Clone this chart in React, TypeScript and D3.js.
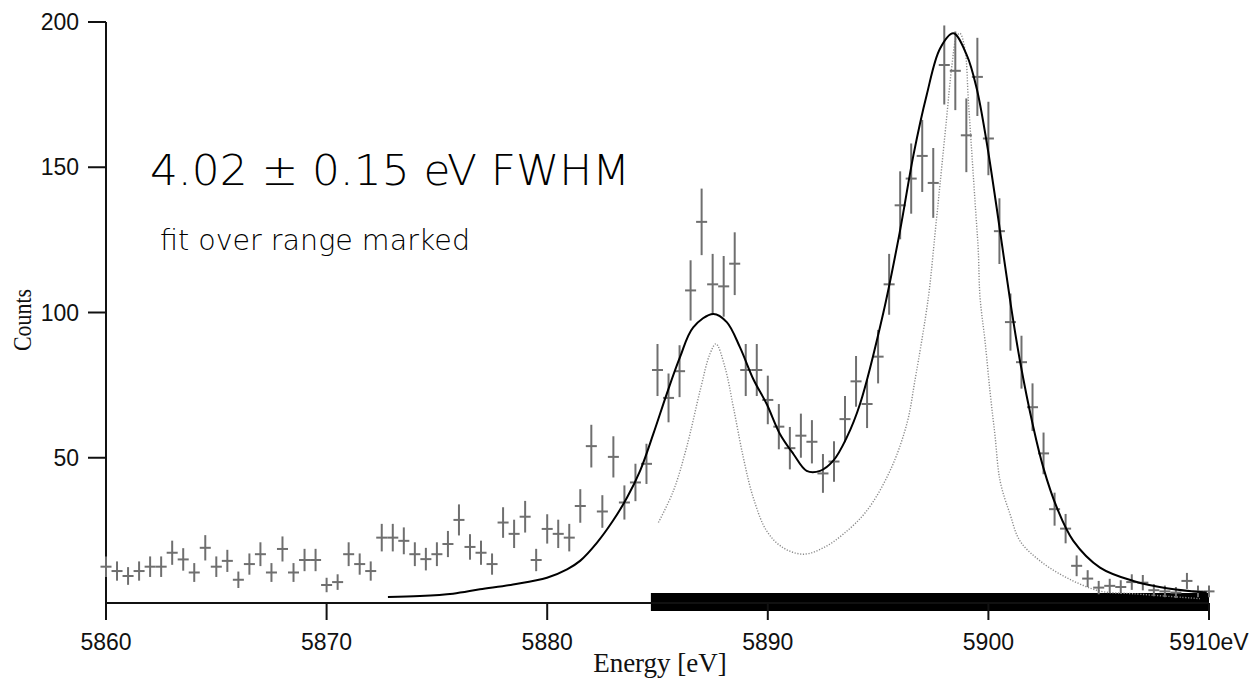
import { useEffect, useRef } from "react";
import * as d3 from "d3";

// measured spectrum, 0.5 eV bins
const binEnergy = [
  5860, 5860.5, 5861, 5861.5, 5862, 5862.5, 5863, 5863.5, 5864, 5864.5,
  5865, 5865.5, 5866, 5866.5, 5867, 5867.5, 5868, 5868.5, 5869, 5869.5,
  5870, 5870.5, 5871, 5871.5, 5872, 5872.5, 5873, 5873.5, 5874, 5874.5,
  5875, 5875.5, 5876, 5876.5, 5877, 5877.5, 5878, 5878.5, 5879, 5879.5,
  5880, 5880.5, 5881, 5881.5, 5882, 5882.5, 5883, 5883.5, 5884, 5884.5,
  5885, 5885.5, 5886, 5886.5, 5887, 5887.5, 5888, 5888.5, 5889, 5889.5,
  5890, 5890.5, 5891, 5891.5, 5892, 5892.5, 5893, 5893.5, 5894, 5894.5,
  5895, 5895.5, 5896, 5896.5, 5897, 5897.5, 5898, 5898.5, 5899, 5899.5,
  5900, 5900.5, 5901, 5901.5, 5902, 5902.5, 5903, 5903.5, 5904, 5904.5,
  5905, 5905.5, 5906, 5906.5, 5907, 5907.5, 5908, 5908.5, 5909, 5909.5,
  5910
];
const binCounts = [
  12.5, 11, 9.3, 11, 12.5, 12.5, 17.3, 15, 10.5, 19,
  12.5, 14.5, 8, 13.4, 16.8, 10.5, 18.6, 10.5, 14.8, 14.8,
  6.2, 7.2, 16.8, 13.4, 11, 22.5, 22.5, 21.4, 16.8, 15.1,
  16.8, 20.3, 28.6, 19.3, 17.3, 13.4, 27.7, 23.8, 29.7, 14.8,
  25.5, 23.8, 22.5, 33.4, 54, 31.5, 50.3, 34.6, 41.5, 47.9,
  80.2, 70.6, 79.8, 107.6, 131.2, 109.7, 109, 116.8, 80.2, 80.2,
  69.9, 60.7, 53.3, 57.6, 55.5, 44.6, 48.7, 63.3, 76.3, 68.5,
  84.8, 109.7, 136.9, 146.1, 153.9, 144.6, 185.2, 183.2, 161, 181.1,
  159.9, 128, 96.7, 82.9, 67.4, 51.5, 32.3, 25.6, 12.8, 8.4,
  5.3, 5.9, 5.5, 7.2, 7, 4.4, 4, 3.6, 7.6, 4,
  4
];

// fitted line shape (solid)
const fitEnergy = [
  5872.78, 5874.23, 5875.73, 5876.95, 5878.45, 5879.99, 5880.9, 5881.49, 5882.26, 5882.98,
  5883.62, 5884.21, 5884.81, 5885.42, 5886.02, 5886.62, 5887.53, 5888.14, 5888.74, 5889.34,
  5889.95, 5890.55, 5891.16, 5891.76, 5892.37, 5892.97, 5893.58, 5894.18, 5895.24, 5895.99,
  5896.6, 5897.2, 5897.81, 5898.41, 5899.02, 5899.47, 5899.92, 5900.38, 5900.98, 5901.43,
  5902.04, 5902.49, 5903.1, 5903.85, 5905.06, 5906.57, 5908.08, 5909.9
];
const fitCounts = [
  2.1, 2.4, 3.2, 4.7, 6.4, 8.7, 11.6, 14.5, 20.8, 28.3,
  36.3, 45.5, 58.2, 72, 84.6, 94.9, 99.5, 96.7, 88, 77.1,
  68.5, 58.2, 51.3, 45.5, 45.5, 49, 57, 68.5, 100, 128,
  154.1, 174.8, 190.9, 196.1, 188.6, 177.1, 158.7, 135.8, 104.4, 83.4,
  60.4, 46.6, 32.9, 21.4, 12.2, 7.6, 5.1, 3.6
];

// natural line shape (dotted)
const lineEnergy = [
  5885.04, 5885.72, 5886.32, 5886.93, 5887.38, 5887.65, 5888.06, 5888.44, 5888.89, 5889.34,
  5889.95, 5890.7, 5891.61, 5892.52, 5893.42, 5894.48, 5895.54, 5896.3, 5896.67, 5897.28,
  5897.58, 5897.81, 5898.11, 5898.34, 5898.56, 5898.71, 5898.94, 5899.09, 5899.24, 5899.39,
  5899.54, 5899.62, 5899.85, 5900.07, 5900.3, 5900.53, 5900.98, 5901.43, 5902.34, 5903.55,
  5905.06, 5906.55, 5909.59
];
const lineCounts = [
  27.7, 38.6, 53.6, 73.1, 85.8, 89.2, 81.1, 67.4, 50.1, 36.3,
  24.8, 19, 16.8, 19, 23.7, 31.7, 45.5, 61.6, 76.6, 105.3,
  127.1, 144.4, 167.3, 184.6, 195, 196.1, 190.4, 173.1, 155.9, 138.6,
  121.4, 105.3, 90, 73, 57.6, 42, 30.6, 21.4, 14.5, 8.7,
  4.1, 3.2, 1.5
];

const xTicks = [5860, 5870, 5880, 5890, 5900, 5910];
const xTickLabels = ["5860", "5870", "5880", "5890", "5900", "5910eV"];
const yTicks = [50, 100, 150, 200];
const fitRange = [5884.7, 5910];

function App() {
  const svgRef = useRef<SVGSVGElement | null>(null);

  const width = 1256;
  const height = 681;

  useEffect(() => {
    const svg = d3.select(svgRef.current);
    svg.selectAll("*").remove();

    const x = d3.scaleLinear().domain([5860, 5910]).range([106, 1209]);
    const y = d3.scaleLinear().domain([0, 200]).range([603, 22]);

    // range marked bar
    svg.append("rect")
      .attr("x", x(fitRange[0]))
      .attr("y", y(0) - 10)
      .attr("width", x(fitRange[1]) - x(fitRange[0]))
      .attr("height", 18)
      .attr("fill", "#000");

    // axes
    const axes = svg.append("g").attr("stroke", "#111").attr("stroke-width", 2);
    axes.append("line")
      .attr("x1", x(5860)).attr("x2", x(5910))
      .attr("y1", y(0)).attr("y2", y(0));
    axes.append("line")
      .attr("x1", x(5860)).attr("x2", x(5860))
      .attr("y1", y(0)).attr("y2", y(200));
    axes.selectAll(".xt")
      .data(xTicks)
      .join("line")
      .attr("x1", (d) => x(d)).attr("x2", (d) => x(d))
      .attr("y1", y(0)).attr("y2", y(0) + 17);
    axes.selectAll(".yt")
      .data(yTicks)
      .join("line")
      .attr("x1", x(5860) - 18).attr("x2", x(5860))
      .attr("y1", (d) => y(d)).attr("y2", (d) => y(d));

    svg.append("g")
      .selectAll("text")
      .data(xTicks)
      .join("text")
      .attr("x", (d) => x(d))
      .attr("y", 650)
      .attr("text-anchor", "middle")
      .attr("font-family", "Liberation Sans, Arial, sans-serif")
      .attr("font-size", 23)
      .attr("fill", "#111")
      .text((d, i) => xTickLabels[i]);

    svg.append("g")
      .selectAll("text")
      .data(yTicks)
      .join("text")
      .attr("x", 79)
      .attr("y", (d) => y(d))
      .attr("dy", "0.35em")
      .attr("text-anchor", "end")
      .attr("font-family", "Liberation Sans, Arial, sans-serif")
      .attr("font-size", 23)
      .attr("fill", "#111")
      .text((d) => d);

    svg.append("text")
      .attr("x", 660)
      .attr("y", 672)
      .attr("text-anchor", "middle")
      .attr("font-family", "Liberation Serif, Times New Roman, serif")
      .attr("font-size", 27)
      .attr("fill", "#111")
      .text("Energy [eV]");

    svg.append("text")
      .attr("transform", "translate(31,320) rotate(-90)")
      .attr("text-anchor", "middle")
      .attr("font-family", "Liberation Serif, Times New Roman, serif")
      .attr("font-size", 25)
      .attr("textLength", 62)
      .attr("lengthAdjust", "spacingAndGlyphs")
      .attr("fill", "#111")
      .text("Counts");

    // annotations
    svg.append("text")
      .attr("x", 150)
      .attr("y", 185)
      .attr("font-family", "DejaVu Sans, sans-serif")
      .attr("font-weight", 300)
      .attr("font-size", 43)
      .attr("textLength", 480)
      .attr("lengthAdjust", "spacingAndGlyphs")
      .attr("fill", "#000")
      .text("4.02 ± 0.15 eV FWHM");

    svg.append("text")
      .attr("x", 160)
      .attr("y", 250)
      .attr("font-family", "DejaVu Sans, sans-serif")
      .attr("font-weight", 300)
      .attr("font-size", 29)
      .attr("textLength", 310)
      .attr("lengthAdjust", "spacingAndGlyphs")
      .attr("fill", "#000")
      .text("fit over range marked");

    // dotted natural line shape
    const lineShape = d3.line<number>()
      .x((d) => x(lineEnergy[d]))
      .y((d) => y(lineCounts[d]))
      .curve(d3.curveCatmullRom.alpha(0.5));
    svg.append("path")
      .attr("d", lineShape(lineEnergy.map((_, i) => i)))
      .attr("fill", "none")
      .attr("stroke", "#8a8a8a")
      .attr("stroke-width", 1.4)
      .attr("stroke-dasharray", "1.2,1.6");

    // data with error bars
    const pts = svg.append("g")
      .attr("stroke", "#6f6f6f")
      .attr("stroke-width", 2)
      .selectAll("g")
      .data(binEnergy.map((e, i) => ({ e, c: binCounts[i] })))
      .join("g");
    pts.append("line")
      .attr("x1", (d) => x(d.e)).attr("x2", (d) => x(d.e))
      .attr("y1", (d) => y(d.c + Math.sqrt(d.c)))
      .attr("y2", (d) => y(Math.max(0, d.c - Math.sqrt(d.c))));
    pts.append("line")
      .attr("x1", (d) => x(d.e - 0.25)).attr("x2", (d) => x(d.e + 0.25))
      .attr("y1", (d) => y(d.c)).attr("y2", (d) => y(d.c));

    // fit
    const fitLine = d3.line<number>()
      .x((d) => x(fitEnergy[d]))
      .y((d) => y(fitCounts[d]))
      .curve(d3.curveCatmullRom.alpha(0.5));
    svg.append("path")
      .attr("d", fitLine(fitEnergy.map((_, i) => i)))
      .attr("fill", "none")
      .attr("stroke", "#000")
      .attr("stroke-width", 2);
  }, []);

  return (
    <div style={{ position: "absolute", left: 0, top: 0 }}>
      <svg
        width={width}
        height={height}
        viewBox={`0 0 ${width} ${height}`}
        ref={svgRef}
        style={{ display: "block", background: "#fff" }}
      ></svg>
    </div>
  );
}

export default App;
